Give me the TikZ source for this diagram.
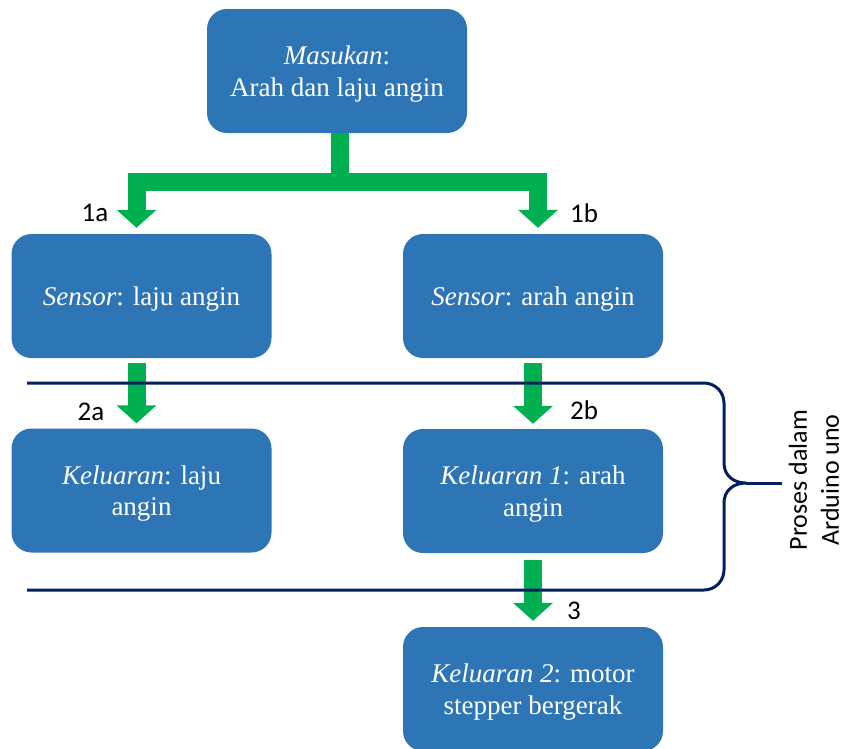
\documentclass[tikz,border=0pt]{standalone}
\usepackage{fontspec}
\setmainfont{Liberation Serif}
\newfontfamily\labelfont{Carlito}
\usetikzlibrary{arrows.meta, positioning}
\definecolor{boxblue}{HTML}{2E75B6}
\definecolor{flowgreen}{HTML}{00B050}
\definecolor{bracenavy}{HTML}{002060}
\tikzset{
	bluebox/.style={fill=boxblue, rounded corners=20pt, minimum width=260pt, minimum height=124pt,
			align=center, text=white, inner sep=0pt, text depth=0pt, font=\fontsize{27}{31.5}\selectfont}
}
\tikzset{
	flow/.style={draw=flowgreen, line width=18pt, line join=miter, -{Triangle[width=39pt,length=18pt]}}
}
\tikzset{
	steplabel/.style={font=\labelfont\fontsize{27}{30}\selectfont}
}
\tikzset{
	navyline/.style={draw=bracenavy, line width=3pt}
}

\begin{document}
\begin{tikzpicture}[x=1pt, y=-1pt]

	\useasboundingbox (0,0) rectangle (848,748);
	\clip (0,0) rectangle (848,748);

	\node[bluebox] (masukan) at (337,71) {\textit{Masukan}:\\Arah dan laju angin};
	\node[bluebox] (sensorlaju) at (141.5,296) {\textit{Sensor}: laju angin};
	\node[bluebox] (sensorarah) at (533,296) {\textit{Sensor}: arah angin};
	\node[bluebox] (keluaranlaju) at (141.5,490.5) {\textit{Keluaran}: laju\\angin};
	\node[bluebox] (keluaranarah) at (533,491) {\textit{Keluaran 1}: arah\\angin};
	\node[bluebox] (keluaranmotor) at (533,689) {\textit{Keluaran 2}: motor\\stepper bergerak};

	\draw[flow, shorten >=6pt] ([xshift=3pt]masukan.south) -- ++(0,49) -| ([xshift=-5pt]sensorlaju.north);
	\draw[flow, shorten >=6pt] ([xshift=3pt]masukan.south) -- ++(0,49) -| ([xshift=5pt]sensorarah.north);
	\draw[flow, shorten <=5pt, shorten >=5pt] ([xshift=-5pt]sensorlaju.south) -- ([xshift=-5pt]keluaranlaju.north);
	\draw[flow, shorten <=5pt, shorten >=5pt] (sensorarah.south) -- (keluaranarah.north);
	\draw[flow, shorten <=7pt, shorten >=6pt] (keluaranarah.south) -- (keluaranmotor.north);

	\node[steplabel] (l1a) at (95,213) {1a};
	\node[steplabel] (l1b) at (584,213) {1b};
	\node[steplabel] (l2a) at (91,412) {2a};
	\node[steplabel] (l2b) at (584,410) {2b};
	\node[steplabel] (l3) at (574,611) {3};

	% bracket round the Arduino part
	\coordinate (bracetip) at (746,483);
	\draw[navyline] (27,383) -- (704,383) .. controls (715,383) and (724,392) .. (724,403)
		-- (724,463) .. controls (724,476) and (734,483) .. (bracetip)
		.. controls (734,483) and (724,490) .. (724,503)
		-- (724,570) .. controls (724,581) and (715,590) .. (704,590) -- (27,590);
	\draw[navyline] (bracetip) -- (782,483);

	\node[rotate=90, align=center, inner sep=0pt, font=\labelfont\fontsize{26}{32}\selectfont] (proses) at (814,480)
		{Proses dalam\\Arduino uno};

\end{tikzpicture}
\end{document}
